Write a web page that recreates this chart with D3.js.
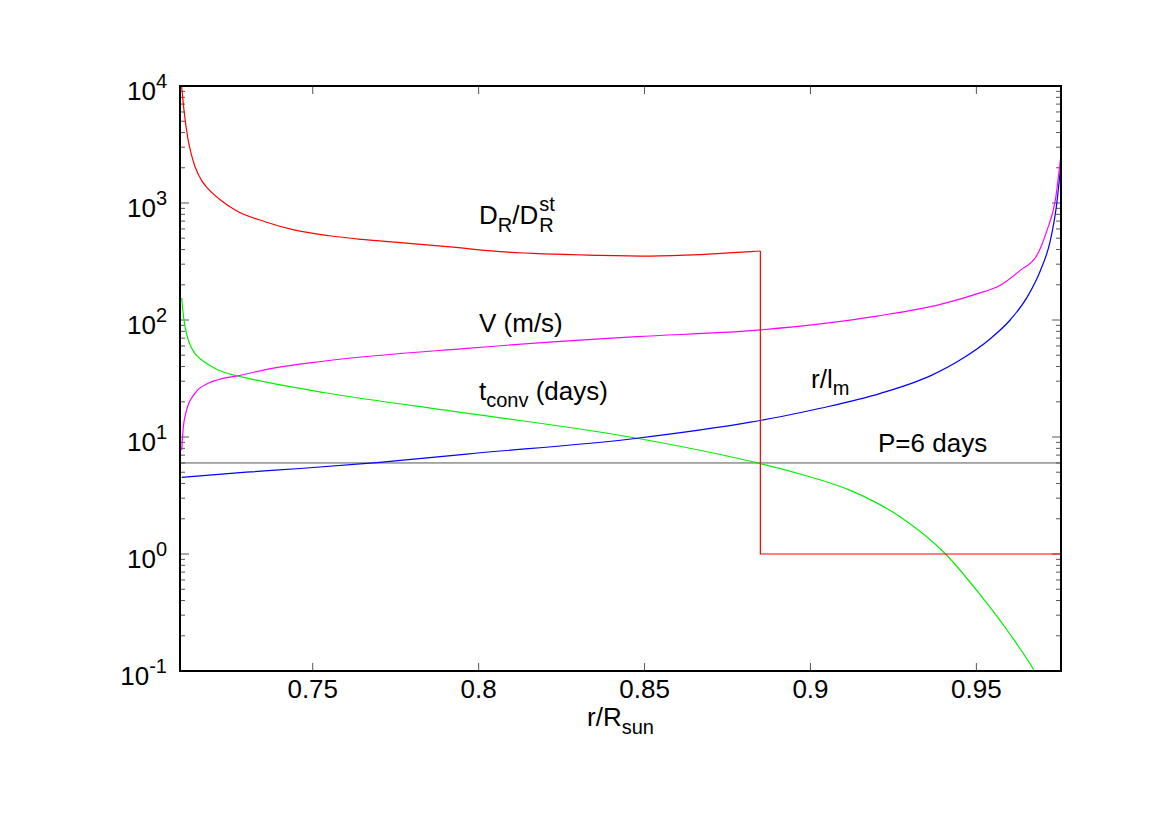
<!DOCTYPE html>
<html>
<head>
<meta charset="utf-8">
<script src="https://cdn.jsdelivr.net/npm/d3@7"></script>
<style>
  body { margin: 0; background: #fff; }
  text { font-family: "Liberation Sans", Arial, Helvetica, sans-serif; fill: #000; }
</style>
</head>
<body>
<div id="chart"></div>
<script>
// values (r/Rsun -> quantity)
const rD = [0.7103, 0.7113, 0.7125, 0.7135, 0.7145, 0.7165, 0.7185, 0.7226, 0.7266, 0.7356, 0.7447, 0.755, 0.765, 0.7763, 0.7914, 0.8065, 0.8366, 0.8517, 0.8668, 0.8819, 0.8849]
const valD = [11500, 5850, 3400, 2550, 2050, 1560, 1320, 1040, 871, 692, 587, 525, 488, 458, 421, 384, 357, 352, 362, 384, 389]
const rJump = 0.8849
const dOuter = 1

const rV = [0.7105, 0.711, 0.712, 0.7145, 0.7185, 0.7286, 0.7386, 0.7537, 0.7964, 0.8477, 0.8819, 0.903, 0.92, 0.9392, 0.9492, 0.9573, 0.9633, 0.9683, 0.9713, 0.9738, 0.9755]
const valV = [7.7, 12.2, 17, 23.6, 28.8, 33.9, 39, 44.6, 57.3, 72, 81, 92.5, 108, 136, 164, 199, 267, 360, 587, 1062, 2600]

const rT = [0.7105, 0.7112, 0.712, 0.713, 0.7145, 0.7165, 0.719, 0.7215, 0.7251, 0.7286, 0.7386, 0.7537, 0.7964, 0.8477, 0.8819, 0.8969, 0.912, 0.9271, 0.9407, 0.9512, 0.9603, 0.9675, 0.9708]
const valT = [154, 100, 75.9, 61.7, 51.9, 45.7, 40.8, 37.4, 34.5, 32.6, 28.4, 23.9, 16, 9.76, 6.2, 4.83, 3.5, 2.07, 1.0, 0.447, 0.203, 0.1, 0.068]

const rL = [0.7105, 0.73, 0.7462, 0.7693, 0.7964, 0.8477, 0.8819, 0.8909, 0.903, 0.9211, 0.9361, 0.9452, 0.9542, 0.9603, 0.9653, 0.9693, 0.9723, 0.9741, 0.9755]
const valL = [4.52, 5.0, 5.38, 6.05, 7.15, 9.76, 13.4, 14.9, 17.6, 23.6, 33.3, 45.7, 69.2, 101, 157, 265, 480, 930, 2190]

const period = 6

const xTicks = [0.75, 0.8, 0.85, 0.9, 0.95]
const xTickLabels = ["0.75", "0.8", "0.85", "0.9", "0.95"]
const yDecades = [-1, 0, 1, 2, 3, 4]

const width = 1175, height = 831
const margin = ({top: 86, right: 114, bottom: 160, left: 180})

const svg = d3.select("#chart").append("svg")
    .attr("width", width).attr("height", height)

const x = d3.scaleLinear()
    .domain([0.71, 0.9755])
    .range([margin.left, width - margin.right])

const y = d3.scaleLog()
    .domain([0.1, 10000])
    .range([height - margin.bottom, margin.top])

const x0 = x.range()[0], x1 = x.range()[1]
const y0 = y.range()[0], y1 = y.range()[1]

svg.append("clipPath").attr("id", "plot")
  .append("rect")
    .attr("x", x0).attr("y", y1)
    .attr("width", x1 - x0).attr("height", y0 - y1)

// ticks: major + minor on y, both sides, pointing inward
const minor = []
yDecades.slice(0, -1).forEach(d => {
    for (let k = 2; k <= 9; k++) minor.push(k * Math.pow(10, d))
})
const major = yDecades.map(d => Math.pow(10, d))

const tickColor = "#555"
const gt = svg.append("g").attr("stroke", tickColor).attr("stroke-width", 1)
major.forEach(v => {
    gt.append("line").attr("x1", x0).attr("x2", x0 + 9).attr("y1", y(v)).attr("y2", y(v))
    gt.append("line").attr("x1", x1).attr("x2", x1 - 9).attr("y1", y(v)).attr("y2", y(v))
})
minor.forEach(v => {
    gt.append("line").attr("x1", x0).attr("x2", x0 + 5).attr("y1", y(v)).attr("y2", y(v))
    gt.append("line").attr("x1", x1).attr("x2", x1 - 5).attr("y1", y(v)).attr("y2", y(v))
})
xTicks.forEach(v => {
    gt.append("line").attr("x1", x(v)).attr("x2", x(v)).attr("y1", y0).attr("y2", y0 - 8)
    gt.append("line").attr("x1", x(v)).attr("x2", x(v)).attr("y1", y1).attr("y2", y1 + 8)
})

const fs = 26, fsSmall = 20

// tick labels
xTicks.forEach((v, i) => {
    svg.append("text")
        .attr("x", x(v)).attr("y", y0 + 27)
        .attr("text-anchor", "middle")
        .attr("font-size", fs)
        .text(xTickLabels[i])
})
yDecades.forEach(d => {
    const t = svg.append("text")
        .attr("x", x0 - 13).attr("y", y(Math.pow(10, d)) + 14)
        .attr("text-anchor", "end")
        .attr("font-size", fs)
    t.append("tspan").text("10")
    t.append("tspan").attr("dy", -12).attr("font-size", fsSmall).text(d)
})

// curves
const line = d3.line()
    .x(d => x(d[0]))
    .y(d => y(d[1]))
    .curve(d3.curveMonotoneX)

const curves = svg.append("g").attr("clip-path", "url(#plot)")
    .attr("fill", "none").attr("stroke-width", 1.2)

curves.append("path")
    .attr("stroke", "#555").attr("stroke-width", 1)
    .attr("d", d3.line()([[x0, y(period)], [x1, y(period)]]))

const seriesList = [
    {r: rT, v: valT, color: "#00ee00"},
    {r: rL, v: valL, color: "#0000ff"},
    {r: rV, v: valV, color: "#ff00ff"},
    {r: rD, v: valD, color: "#ff0000"}
]
seriesList.forEach(s => {
    curves.append("path")
        .attr("stroke", s.color)
        .attr("d", line(d3.zip(s.r, s.v)))
})
// red step down to the outer value
curves.append("path")
    .attr("stroke", "#ff0000")
    .attr("d", d3.line().x(d => x(d[0])).y(d => y(d[1]))(
        [[rJump, valD[valD.length - 1]], [rJump, dOuter], [x.domain()[1], dOuter]]))

// frame
svg.append("rect")
    .attr("x", x0).attr("y", y1)
    .attr("width", x1 - x0).attr("height", y0 - y1)
    .attr("fill", "none").attr("stroke", "#000").attr("stroke-width", 2)

// curve labels
function label(px, py, parts) {
    const t = svg.append("text").attr("x", px).attr("y", py).attr("font-size", fs)
    let shift = 0
    parts.forEach(p => {
        const dy = (p.dy || 0) - shift
        shift = p.dy || 0
        t.append("tspan").attr("dy", dy).attr("font-size", p.small ? fsSmall : fs).text(p.s)
    })
    return t
}

// D_R / D_R^st  (stacked super/subscript)
const dLab = label(479, 224, [{s: "D"}, {s: "R", small: true, dy: 8}, {s: "/D"}])
const dEnd = 479 + dLab.node().getComputedTextLength() + 1
svg.append("text").attr("x", dEnd).attr("y", 211).attr("font-size", fsSmall).text("st")
svg.append("text").attr("x", dEnd).attr("y", 232).attr("font-size", fsSmall).text("R")

label(479, 332, [{s: "V (m/s)"}])
label(479, 400, [{s: "t"}, {s: "conv", small: true, dy: 7}, {s: " (days)"}])
label(811, 388, [{s: "r/l"}, {s: "m", small: true, dy: 7}])
label(878, 452, [{s: "P=6 days"}])

// x axis title
const xt = svg.append("text")
    .attr("x", (x0 + x1) / 2).attr("y", 726)
    .attr("text-anchor", "middle").attr("font-size", fs)
xt.append("tspan").text("r/R")
xt.append("tspan").attr("dy", 8).attr("font-size", fsSmall).text("sun")
</script>
</body>
</html>
